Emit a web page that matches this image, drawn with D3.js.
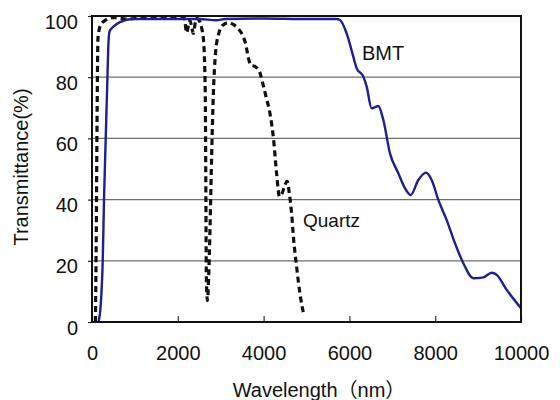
<!DOCTYPE html>
<html>
<head>
    <meta charset="utf-8">
    <script src="https://d3js.org/d3.v7.min.js"></script>
    <style>
        body { margin: 0; background: #fff; }
        svg { display: block; }
        text { font-family: "Liberation Sans", Arial, "Noto Sans CJK JP", sans-serif; }
    </style>
</head>
<body>
<script>
/*Chart data*/
var bmtWave = [150, 200, 250, 280, 330, 360, 380, 410, 500, 650, 950, 1500, 2500, 2900, 3100, 4000, 5000, 5700,
    5781, 5936, 6091, 6170, 6325, 6403, 6519, 6600, 6674, 6791, 6946, 7141, 7296, 7429, 7607, 7786, 7918,
    8073, 8268, 8462, 8656, 8889, 9121, 9318, 9434, 9667, 10000];
var bmtT = [0, 5, 20, 40, 65, 80, 90, 95, 96.5, 98, 99, 99, 99, 98.6, 99, 99.2, 99, 99,
    98.7, 94.3, 86.7, 82.9, 80.2, 76.9, 69.8, 70.2, 70.6, 66, 55.1, 48.6, 43.7, 41.5, 46.4, 48.8, 46.4,
    39.9, 33.3, 25.7, 19.2, 14.3, 14.6, 16.1, 15.4, 10.5, 4.5];

var quartzWave = [80, 100, 120, 140, 200, 300, 500, 800, 1200, 1600, 2000, 2150, 2207, 2250, 2284, 2330, 2362,
    2410, 2440, 2500, 2557, 2600, 2640, 2655, 2665, 2690, 2720, 2750, 2790, 2830, 2880, 2950, 3050, 3180,
    3300, 3400, 3500, 3580, 3650, 3700, 3800, 3900, 3980, 4050, 4150, 4230, 4300, 4370, 4430, 4480, 4550,
    4600, 4650, 4700, 4770, 4850, 4930];
var quartzT = [0, 30, 70, 93, 97, 98.5, 99.5, 99, 99.5, 99.8, 99.5, 99.3, 94.5, 97, 98.5, 96, 94.3,
    98, 99.2, 98.5, 96, 92, 75, 40, 15, 7, 15, 30, 55, 75, 88, 94, 97, 97.8,
    97.2, 96, 94, 91, 86, 84, 83.5, 82, 78, 74, 68, 60, 49, 41, 42, 44, 46,
    42, 36, 27, 18, 9, 2.8];

var xTicks = [0, 2000, 4000, 6000, 8000, 10000];
var yTicks = [0, 20, 40, 60, 80, 100];

/*Set global variables*/
var W = 560, H = 400;
var mLeft = 92, mTop = 16, width = 429, height = 306;
var fontsize = "20px";

var svg = d3.select("body").append("svg").attr("width", W).attr("height", H);
var g = svg.append("g").attr("transform", "translate(" + mLeft + "," + mTop + ")");

var x = d3.scaleLinear().domain([0, 10000]).range([0, width]);
var y = d3.scaleLinear().domain([0, 100]).range([height, 0]);

/*grid lines*/
g.selectAll(".grid").data(yTicks.slice(1, 5)).enter().append("line")
    .attr("x1", 0).attr("x2", width)
    .attr("y1", function(d) { return y(d); }).attr("y2", function(d) { return y(d); })
    .attr("stroke", "#6e6e6e").attr("stroke-width", 1.2);

/*x axis: inner ticks, labels below*/
var xAxis = g.append("g").attr("transform", "translate(0," + height + ")")
    .call(d3.axisBottom(x).tickValues(xTicks).tickSize(-6).tickFormat(d3.format("d")).tickPadding(24));
xAxis.select(".domain").remove();
xAxis.selectAll("line").attr("stroke", "#333").attr("stroke-width", 1.2);
xAxis.selectAll("text").style("font-size", fontsize).attr("fill", "#111");

/*y axis*/
var yAxis = g.append("g")
    .call(d3.axisLeft(y).tickValues(yTicks).tickSize(4).tickPadding(10));
yAxis.select(".domain").remove();
yAxis.selectAll("line").attr("stroke", "#222").attr("stroke-width", 1.2);
yAxis.selectAll("text").style("font-size", fontsize).attr("fill", "#111").attr("dy", "0.6em");

/*lines*/
g.append("clipPath").attr("id", "clip").append("rect")
    .attr("x", 0).attr("y", -1).attr("width", width).attr("height", height + 1);

var line = d3.line()
    .x(function(d) { return x(d[0]); })
    .y(function(d) { return y(d[1]); })
    .curve(d3.curveMonotoneX);

g.append("path").datum(d3.zip(quartzWave, quartzT))
    .attr("clip-path", "url(#clip)")
    .attr("d", line).attr("fill", "none")
    .attr("stroke", "#111").attr("stroke-width", 3.2).attr("stroke-dasharray", "6,4");

g.append("path").datum(d3.zip(bmtWave, bmtT))
    .attr("clip-path", "url(#clip)")
    .attr("d", line).attr("fill", "none")
    .attr("stroke", "#1f1f8f").attr("stroke-width", 2.4);

/*frame*/
g.append("rect").attr("x", 0).attr("y", 0).attr("width", width).attr("height", height)
    .attr("fill", "none").attr("stroke", "#111").attr("stroke-width", 2);

/*series labels*/
g.append("text").attr("x", 362 - mLeft).attr("y", 60 - mTop)
    .style("font-size", fontsize).attr("fill", "#111").text("BMT");
g.append("text").attr("x", 303 - mLeft).attr("y", 227 - mTop)
    .style("font-size", "19px").attr("fill", "#111").text("Quartz");

/*axis titles*/
svg.append("text").attr("x", 319).attr("y", 397)
    .attr("text-anchor", "middle").style("font-size", fontsize).attr("fill", "#111")
    .text("Wavelength（nm）");
svg.append("text").attr("transform", "translate(28,167) rotate(-90)")
    .attr("text-anchor", "middle").style("font-size", fontsize).attr("fill", "#111")
    .text("Transmittance(%)");
</script>
</body>
</html>
